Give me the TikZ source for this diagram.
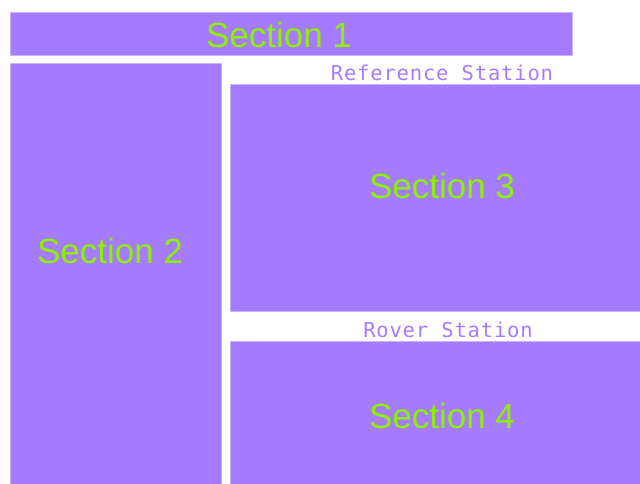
\documentclass[tikz,border=0pt]{standalone}
\usepackage{fontspec}
\setmainfont{Liberation Sans}
\newfontfamily\labelfont[LetterSpace=4]{DejaVu Sans Mono}
\usetikzlibrary{positioning}
\definecolor{secpurple}{HTML}{A57CFF}
\definecolor{secedge}{HTML}{C9B2FF}
\definecolor{secgreen}{HTML}{8CF000}

\begin{document}
\begin{tikzpicture}[
  x=1pt,y=-1pt,
  section/.style={fill=secpurple,draw=secedge,line width=0.8pt,inner sep=0pt,anchor=north west},
  sectext/.style={text=secgreen,font=\fontsize{35}{40}\selectfont,inner sep=0pt},
  stationlabel/.style={text=secpurple,font=\labelfont\fontsize{20.5}{23}\selectfont,inner sep=0pt}
]
\useasboundingbox (0,0) rectangle (640,484);
\node[section,minimum width=562pt,minimum height=43pt] (sec1) at (10,12) {};
\node[section,minimum width=211pt,minimum height=425pt] (sec2) at (10,63) {};
\node[section,minimum width=414pt,minimum height=227pt] (sec3) at (230,84) {};
\node[section,minimum width=414pt,minimum height=147pt] (sec4) at (230,341) {};
\node[sectext] (sec1text) at (279,35) {Section 1};
\node[sectext] (sec2text) at (110,251) {Section 2};
\node[sectext] (sec3text) at (442,186) {Section 3};
\node[sectext] (sec4text) at (442,416) {Section 4};
\node[stationlabel] (refstation) at (442,72.5) {Reference Station};
\node[stationlabel] (roverstation) at (448,329.5) {Rover Station};
\end{tikzpicture}
\end{document}
